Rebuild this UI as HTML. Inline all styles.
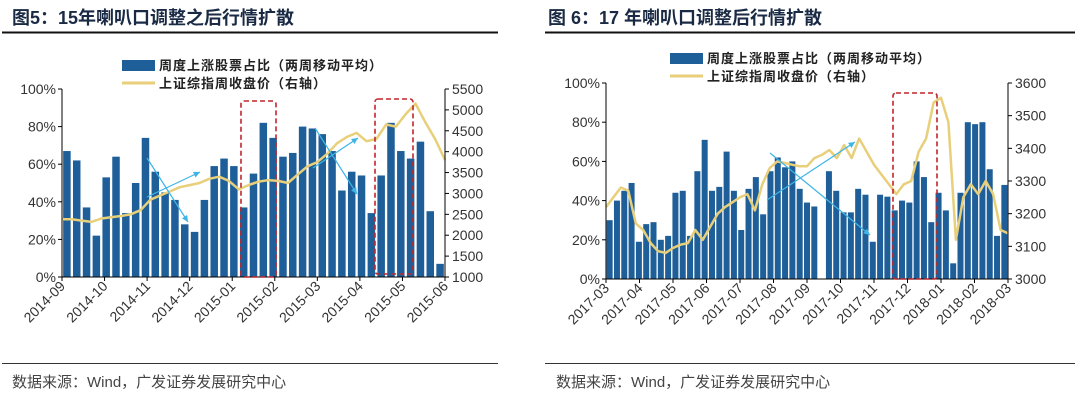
<!DOCTYPE html>
<html><head><meta charset="utf-8"><style>
body{margin:0;background:#fff;width:1080px;height:402px;overflow:hidden;font-family:"Liberation Sans","Noto Sans CJK SC",sans-serif}
</style></head><body>
<svg id="svg" width="1080" height="402" xmlns="http://www.w3.org/2000/svg" style="font-family:'Liberation Sans','Noto Sans CJK SC',sans-serif">
<text x="12" y="24" font-size="18" font-weight="bold" fill="#1a2a44">图5：15年喇叭口调整之后行情扩散</text>
<line x1="2" y1="32.5" x2="498" y2="32.5" stroke="#111" stroke-width="2"/>
<text x="548" y="24" font-size="18" font-weight="bold" fill="#1a2a44">图 6：17 年喇叭口调整后行情扩散</text>
<line x1="545" y1="32.5" x2="1075" y2="32.5" stroke="#111" stroke-width="2"/>
<line x1="2" y1="363.5" x2="498" y2="363.5" stroke="#333" stroke-width="1"/>
<line x1="545" y1="363.5" x2="1075" y2="363.5" stroke="#333" stroke-width="1"/>
<text x="12" y="387" font-size="15" fill="#444">数据来源：Wind，广发证券发展研究中心</text>
<text x="556" y="387" font-size="15" fill="#444">数据来源：Wind，广发证券发展研究中心</text>
<g id="c1"></g>
<g id="c2"></g>
</svg>
<script>
const months1=["2014-09","2014-10","2014-11","2014-12","2015-01","2015-02","2015-03","2015-04","2015-05","2015-06"];
const bars1=[67,62,37,22,53,64,34,50,74,56,45,41,28,24,41,59,63,59,37,55,82,74,64,66,80,79,76,67,46,56,54,34,54,82,67,63,72,35,7];
const line1=[2380,2380,2350,2320,2400,2430,2460,2500,2600,2850,2950,3050,3150,3200,3250,3350,3400,3300,3100,3200,3280,3320,3300,3250,3450,3650,3750,3950,4200,4350,4450,4250,4300,4650,4600,4900,5150,4700,4300,3800];
const rTicks1=[1000,1500,2000,2500,3000,3500,4000,4500,5000,5500];
const months2=["2017-03","2017-04","2017-05","2017-06","2017-07","2017-08","2017-09","2017-10","2017-11","2017-12","2018-01","2018-02","2018-03"];
const bars2=[30,40,45,49,19,28,29,20,22,44,45,22,55,71,45,47,65,45,25,46,52,33,55,62,57,60,46,39,37,null,55,45,34,34,46,43,19,43,42,35,40,39,60,52,29,44,35,8,44,80,79,80,56,22,48];
const line2=[3220,3250,3280,3270,3170,3150,3110,3085,3080,3095,3105,3110,3150,3120,3160,3200,3220,3235,3250,3260,3210,3290,3340,3360,3355,3350,3345,3345,3370,3380,3395,3370,3410,3370,3430,3390,3350,3320,3290,3260,3290,3300,3390,3430,3540,3555,3480,3120,3250,3290,3260,3300,3260,3150,3140];
const rTicks2=[3000,3100,3200,3300,3400,3500,3600];
const pctTicks=[0,20,40,60,80,100];
const NS="http://www.w3.org/2000/svg";
function mk(g,tag,a,txt){const e=document.createElementNS(NS,tag);for(const k in a)e.setAttribute(k,a[k]);if(txt!=null)e.textContent=txt;g.appendChild(e);return e;}
function draw(id,C,months,bars,line,rTicks){
 const g=document.getElementById(id);
 const yL=v=>C.y1-(v/100)*(C.y1-C.y0);
 const rmin=rTicks[0],rmax=rTicks[rTicks.length-1];
 const yR=v=>C.y1-(v-rmin)/(rmax-rmin)*(C.y1-C.y0);
 const xm=i=>C.x0+i*(C.x1-C.x0)/(months.length-1);
 const bw=(C.x1-C.x0)/(bars.length);
 const xb=i=>C.x0+bw*0.5+i*(C.x1-C.x0-bw)/(bars.length-1);
 bars.forEach((v,i)=>{if(v==null)return;
  const r=mk(g,'rect',{x:xb(i)-C.bw/2,y:yL(v),width:C.bw,height:yL(0)-yL(v),fill:'#1f5f99'});
  
  });
 const xl=i=>C.x0+i*(C.x1-C.x0)/(line.length-1);
 const p=mk(g,'polyline',{points:line.map((v,i)=>xl(i).toFixed(1)+','+yR(v).toFixed(1)).join(' '),fill:'none',stroke:'#e8cf7a','stroke-width':2.5,'stroke-linejoin':'round'});
 
 
 mk(g,'line',{x1:C.x0,y1:C.y0,x2:C.x0,y2:C.y1,stroke:'#000'});
 mk(g,'line',{x1:C.x1,y1:C.y0,x2:C.x1,y2:C.y1,stroke:'#000'});
 mk(g,'line',{x1:C.x0,y1:C.y1,x2:C.x1,y2:C.y1,stroke:'#000'});
 pctTicks.forEach(t=>{mk(g,'line',{x1:C.x0-4,x2:C.x0,y1:yL(t),y2:yL(t),stroke:'#000'});
  const e=mk(g,'text',{x:C.x0-6,y:yL(t)+5,'font-size':14,'text-anchor':'end',fill:'#333'},t+'%');
  
  });
 rTicks.forEach(t=>{mk(g,'line',{x1:C.x1,x2:C.x1+4,y1:yR(t),y2:yR(t),stroke:'#000'});
  const e=mk(g,'text',{x:C.x1+7,y:yR(t)+5,'font-size':14,fill:'#333'},t);
  
  });
 months.forEach((m,i)=>{const x=xm(i);mk(g,'line',{x1:x,x2:x,y1:C.y1,y2:C.y1+4,stroke:'#000'});
  const e=mk(g,'text',{x:x+4,y:C.y1+10,'font-size':14,'text-anchor':'end',fill:'#333',transform:`rotate(-45 ${x+4} ${C.y1+10})`},m);
  
  });
 C.boxes.forEach(b=>{const r=mk(g,'rect',{x:b[0],y:b[1],width:b[2]-b[0],height:b[3]-b[1],fill:'none',stroke:'#c0262b','stroke-width':1.6,'stroke-dasharray':'5,3',rx:3});
  
  });
 C.arrows.forEach(a=>{const l=mk(g,'line',{x1:a[0],y1:a[1],x2:a[2],y2:a[3],stroke:'#3fb5e6','stroke-width':1.2});
  
  
  const ang=Math.atan2(a[3]-a[1],a[2]-a[0]);const s=7;
  const pts=[[a[2],a[3]],[a[2]-s*Math.cos(ang-0.45),a[3]-s*Math.sin(ang-0.45)],[a[2]-s*Math.cos(ang+0.45),a[3]-s*Math.sin(ang+0.45)]];
  mk(g,'polygon',{points:pts.map(q=>q.join(',')).join(' '),fill:'#3fb5e6'});});
 const L=C.leg;
 const lb=mk(g,'rect',{x:L[0],y:L[1],width:33,height:11,fill:'#1f5f99'});
 
 
 const t1=mk(g,'text',{x:L[0]+37,y:L[1]+10,'font-size':13,fill:'#222','font-weight':600,'letter-spacing':1},'周度上涨股票占比（两周移动平均）');
 
 
 mk(g,'line',{x1:L[0],x2:L[0]+33,y1:L[1]+23,y2:L[1]+23,stroke:'#e8cf7a','stroke-width':3});
 const t2=mk(g,'text',{x:L[0]+37,y:L[1]+28,'font-size':13,fill:'#222','font-weight':600,'letter-spacing':1},'上证综指周收盘价（右轴）');
 
 
}
draw('c1',{x0:62,x1:445,y0:89,y1:277,bw:7.5,leg:[122,60],
 boxes:[[241,101,276,277],[375,99,413,274]],
 arrows:[[147,158,188,222],[147,197,200,172],[315,128,357,194],[313,168,358,138]]},months1,bars1,line1,rTicks1);
draw('c2',{x0:606,x1:1008,y0:83,y1:279,bw:6,leg:[670,53],
 boxes:[[893,93,937,279]],
 arrows:[[770,153,870,235],[767,200,855,142]]},months2,bars2,line2,rTicks2);
</script>
</body></html>
